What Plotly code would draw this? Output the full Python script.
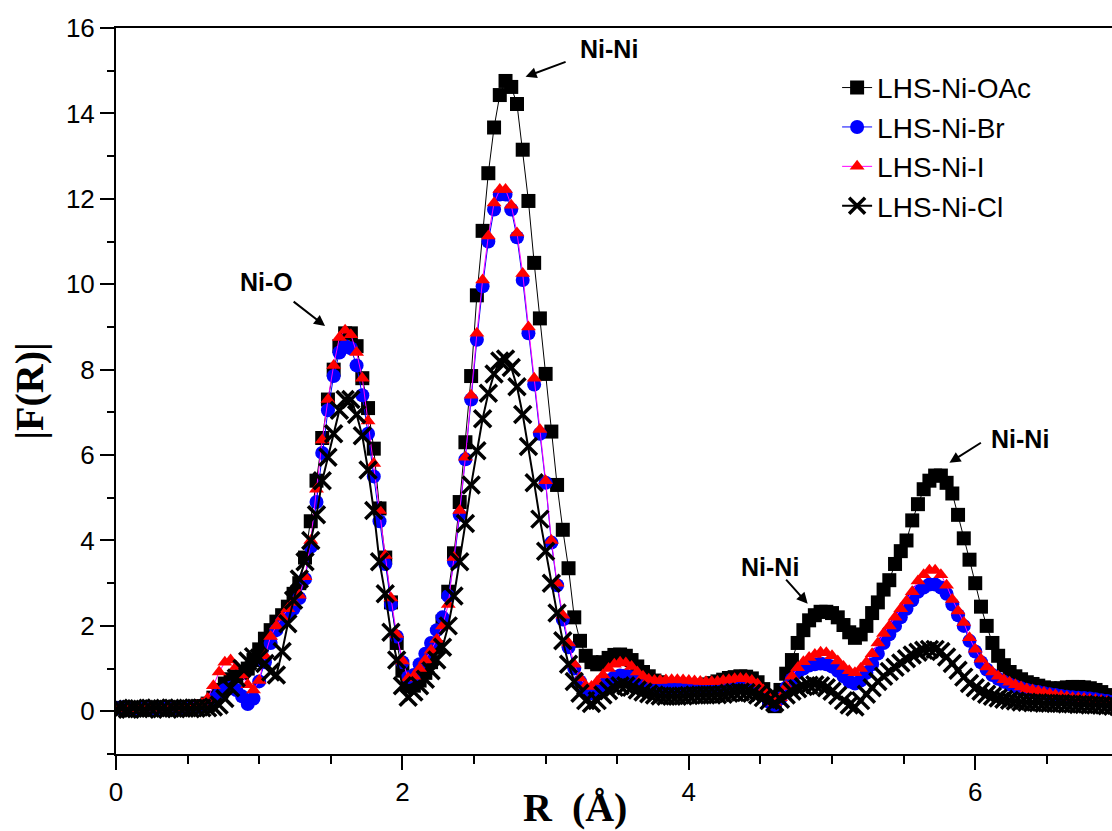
import plotly.graph_objects as go

# R grid (Å), sampled every 0.04 Å from 0 to 7
R = [round(0.04 * i, 2) for i in range(176)]

oac = [
    0.06, 0.08, 0.07, 0.06, 0.08, 0.07, 0.05, 0.06, 0.08, 0.09, 0.07, 0.06, 0.08, 0.10, 0.11, 0.12, 0.18, 0.32, 0.50, 0.65, 0.75, 0.82, 0.90, 1.00, 1.20,
    1.45, 1.70, 1.90, 2.10, 2.25, 2.45, 2.75, 3.00, 3.60, 4.45, 5.40, 6.40, 7.30, 8.00, 8.55, 8.85, 8.85, 8.55, 7.80, 7.10, 6.15, 4.75, 3.60, 2.55, 1.60,
    0.95, 0.60, 0.60, 0.72, 0.90, 1.15, 1.50, 2.10, 2.80, 3.70, 4.90, 6.30, 7.85, 9.74, 11.25, 12.60, 13.67, 14.43, 14.76, 14.62, 14.22, 13.15, 11.95, 10.50, 9.20,
    7.90, 6.55, 5.30, 4.25, 3.35, 2.20, 1.65, 1.30, 1.15, 1.10, 1.15, 1.25, 1.32, 1.33, 1.30, 1.20, 1.05, 0.92, 0.82, 0.72, 0.68, 0.63, 0.60, 0.58, 0.57,
    0.57, 0.58, 0.60, 0.63, 0.66, 0.70, 0.74, 0.78, 0.80, 0.82, 0.81, 0.77, 0.68, 0.52, 0.30, 0.12, 0.50, 0.88, 1.20, 1.60, 1.90, 2.13, 2.25, 2.33, 2.33,
    2.30, 2.20, 2.02, 1.85, 1.72, 1.80, 2.00, 2.30, 2.55, 2.85, 3.07, 3.45, 3.75, 4.00, 4.47, 4.85, 5.20, 5.40, 5.52, 5.52, 5.35, 5.10, 4.60, 4.05, 3.55,
    3.00, 2.45, 2.00, 1.60, 1.30, 1.08, 0.92, 0.82, 0.75, 0.68, 0.64, 0.60, 0.56, 0.54, 0.53, 0.54, 0.56, 0.57, 0.57, 0.56, 0.54, 0.50, 0.45, 0.38, 0.32,
    0.28,
]

br = [
    0.07, 0.09, 0.08, 0.06, 0.07, 0.09, 0.08, 0.06, 0.07, 0.09, 0.08, 0.07, 0.09, 0.10, 0.10, 0.12, 0.18, 0.28, 0.40, 0.50, 0.55, 0.50, 0.35, 0.17, 0.30,
    0.70, 1.15, 1.60, 1.90, 2.10, 2.25, 2.40, 2.65, 3.10, 3.85, 4.90, 6.05, 7.05, 7.85, 8.40, 8.55, 8.50, 8.10, 7.40, 6.50, 5.50, 4.45, 3.45, 2.50, 1.75,
    1.15, 0.80, 0.85, 1.10, 1.35, 1.60, 1.90, 2.20, 2.70, 3.50, 4.60, 5.90, 7.30, 8.70, 9.95, 11.00, 11.75, 12.10, 12.10, 11.75, 11.10, 10.10, 8.85, 7.65, 6.50,
    5.35, 3.95, 2.95, 2.15, 1.50, 1.00, 0.70, 0.48, 0.42, 0.50, 0.62, 0.72, 0.80, 0.84, 0.84, 0.80, 0.72, 0.64, 0.58, 0.55, 0.53, 0.52, 0.52, 0.53, 0.54,
    0.55, 0.56, 0.56, 0.55, 0.55, 0.56, 0.58, 0.60, 0.62, 0.63, 0.62, 0.58, 0.50, 0.38, 0.22, 0.15, 0.30, 0.55, 0.75, 0.90, 1.00, 1.07, 1.10, 1.12, 1.10,
    1.05, 0.95, 0.82, 0.70, 0.65, 0.72, 0.90, 1.10, 1.35, 1.60, 1.80, 2.00, 2.20, 2.40, 2.60, 2.80, 2.90, 2.97, 2.97, 2.90, 2.75, 2.50, 2.25, 2.00, 1.65,
    1.40, 1.15, 0.98, 0.85, 0.76, 0.69, 0.63, 0.58, 0.54, 0.50, 0.47, 0.45, 0.42, 0.40, 0.38, 0.36, 0.34, 0.33, 0.32, 0.31, 0.30, 0.28, 0.26, 0.24, 0.22,
    0.20,
]

iod = [
    0.06, 0.07, 0.09, 0.08, 0.06, 0.08, 0.10, 0.08, 0.07, 0.09, 0.10, 0.08, 0.10, 0.12, 0.13, 0.18, 0.30, 0.60, 0.92, 1.15, 1.20, 1.05, 0.85, 0.62, 0.50,
    0.72, 1.30, 1.75, 2.00, 2.20, 2.40, 2.55, 2.72, 3.15, 4.00, 5.20, 6.35, 7.30, 8.10, 8.75, 8.92, 8.82, 8.40, 7.80, 6.80, 5.80, 4.70, 3.65, 2.65, 1.80,
    1.18, 0.78, 0.82, 1.00, 1.20, 1.43, 1.68, 2.00, 2.50, 3.60, 4.70, 5.95, 7.40, 8.85, 10.10, 11.13, 11.90, 12.22, 12.22, 11.85, 11.20, 10.25, 9.00, 7.80, 6.60,
    5.40, 4.00, 3.00, 2.25, 1.60, 1.10, 0.78, 0.60, 0.58, 0.70, 0.85, 1.00, 1.10, 1.15, 1.13, 1.05, 0.92, 0.82, 0.75, 0.72, 0.72, 0.73, 0.74, 0.74, 0.73,
    0.72, 0.71, 0.70, 0.69, 0.69, 0.70, 0.72, 0.74, 0.76, 0.77, 0.76, 0.72, 0.64, 0.50, 0.32, 0.20, 0.32, 0.58, 0.82, 1.02, 1.16, 1.26, 1.33, 1.38, 1.37,
    1.30, 1.18, 1.05, 0.95, 0.90, 1.00, 1.15, 1.35, 1.60, 1.82, 2.00, 2.20, 2.40, 2.58, 2.80, 3.05, 3.20, 3.30, 3.30, 3.20, 2.95, 2.62, 2.35, 2.08, 1.72,
    1.45, 1.22, 1.04, 0.92, 0.82, 0.74, 0.68, 0.62, 0.57, 0.52, 0.50, 0.47, 0.44, 0.41, 0.38, 0.36, 0.34, 0.32, 0.31, 0.30, 0.28, 0.27, 0.25, 0.23, 0.20,
    0.18,
]

cl = [
    0.05, 0.06, 0.05, 0.07, 0.06, 0.05, 0.07, 0.08, 0.06, 0.05, 0.07, 0.08, 0.07, 0.06, 0.07, 0.08, 0.08, 0.10, 0.15, 0.30, 0.55, 0.78, 1.00, 1.18, 1.28,
    1.25, 1.12, 0.92, 0.85, 1.40, 2.05, 2.60, 3.10, 3.50, 4.00, 4.60, 5.40, 5.95, 6.50, 7.05, 7.30, 7.30, 6.95, 6.45, 5.65, 4.70, 3.50, 2.75, 1.85, 1.20,
    0.60, 0.33, 0.45, 0.60, 0.75, 0.95, 1.20, 1.50, 2.00, 2.70, 3.50, 4.40, 5.30, 6.10, 6.85, 7.45, 7.90, 8.20, 8.25, 8.05, 7.60, 6.95, 6.20, 5.35, 4.50,
    3.75, 3.00, 2.30, 1.65, 1.10, 0.70, 0.42, 0.25, 0.18, 0.25, 0.38, 0.48, 0.56, 0.60, 0.60, 0.56, 0.50, 0.45, 0.41, 0.38, 0.36, 0.35, 0.35, 0.35, 0.36,
    0.37, 0.38, 0.38, 0.38, 0.38, 0.39, 0.40, 0.42, 0.44, 0.45, 0.44, 0.42, 0.38, 0.32, 0.25, 0.20, 0.28, 0.38, 0.47, 0.53, 0.58, 0.61, 0.62, 0.60, 0.55,
    0.47, 0.37, 0.25, 0.15, 0.10, 0.25, 0.40, 0.55, 0.70, 0.82, 0.93, 1.03, 1.13, 1.23, 1.32, 1.38, 1.43, 1.45, 1.45, 1.40, 1.27, 1.12, 0.96, 0.80, 0.65,
    0.55, 0.47, 0.40, 0.35, 0.31, 0.28, 0.26, 0.24, 0.22, 0.21, 0.20, 0.20, 0.19, 0.19, 0.18, 0.18, 0.17, 0.17, 0.16, 0.16, 0.15, 0.15, 0.14, 0.13, 0.12,
    0.11,
]

names = ["LHS-Ni-OAc", "LHS-Ni-Br", "LHS-Ni-I", "LHS-Ni-Cl"]

SANS = "Liberation Sans, Arial, sans-serif"
SERIF = "Liberation Serif, Times New Roman, serif"

fig = go.Figure()
fig.add_trace(go.Scatter(x=R, y=oac, name=names[0], mode="lines+markers",
                         line=dict(color="#000000", width=1),
                         marker=dict(symbol="square", size=14, color="#000000")))
fig.add_trace(go.Scatter(x=R, y=br, name=names[1], mode="lines+markers",
                         line=dict(color="#0000ff", width=1),
                         marker=dict(symbol="circle", size=14, color="#0000ff")))
fig.add_trace(go.Scatter(x=R, y=iod, name=names[2], mode="lines+markers",
                         line=dict(color="#ff00ff", width=1),
                         marker=dict(symbol="triangle-up", size=13, color="#ff0000")))
fig.add_trace(go.Scatter(x=R, y=cl, name=names[3], mode="lines+markers",
                         line=dict(color="#000000", width=2),
                         marker=dict(symbol="x-thin", size=17, color="#000000",
                                     line=dict(color="#000000", width=3.5))))

arrow_style = dict(showarrow=True, arrowhead=2, arrowsize=1.1, arrowwidth=2,
                   arrowcolor="#000000", axref="x", ayref="y", text="")
labels = [
    # text, text x, text y, arrow tail x, tail y, head x, head y
    ("Ni-O", 1.05, 10.05, 1.23, 9.62, 1.46, 9.02),
    ("Ni-Ni", 3.44, 15.5, 3.15, 15.22, 2.86, 14.86),
    ("Ni-Ni", 4.57, 3.37, 4.67, 3.12, 4.83, 2.52),
    ("Ni-Ni", 6.31, 6.37, 6.05, 6.31, 5.82, 5.82),
]
for txt, tx, ty, axx, ayy, hx, hy in labels:
    fig.add_annotation(x=tx, y=ty, text="<b>%s</b>" % txt, showarrow=False,
                       font=dict(family=SANS, size=25, color="#000000"))
    fig.add_annotation(x=hx, y=hy, ax=axx, ay=ayy, **arrow_style)

# x-axis title (placed like the original, slightly left of the axis centre)
fig.add_annotation(xref="paper", yref="paper", x=0.461, y=-0.074,
                   xanchor="center", yanchor="middle", showarrow=False,
                   text="<b>R&nbsp;&nbsp;(Å)</b>",
                   font=dict(family=SERIF, size=40, color="#000000"))

fig.update_layout(
    width=1112, height=831,
    margin=dict(l=116, r=0, t=28, b=77),
    paper_bgcolor="white", plot_bgcolor="white",
    font=dict(family=SANS, color="#000000"),
    showlegend=True,
    legend=dict(x=0.724, y=0.952, xanchor="left", yanchor="top",
                font=dict(family=SANS, size=28, color="#000000"),
                bgcolor="rgba(0,0,0,0)", itemsizing="trace"),
    xaxis=dict(range=[0, 6.955], tick0=0, dtick=2, showgrid=False, zeroline=False,
               showline=True, linecolor="#000000", linewidth=2, mirror=True,
               ticks="outside", ticklen=14, tickwidth=2, tickcolor="#000000",
               tickfont=dict(family=SANS, size=26), automargin=False,
               minor=dict(dtick=0.5, ticks="outside", ticklen=8, tickwidth=2, tickcolor="#000000")),
    yaxis=dict(range=[-1, 16], tick0=0, dtick=2, showgrid=False, zeroline=False,
               showline=True, linecolor="#000000", linewidth=2,
               ticks="outside", ticklen=14, tickwidth=2, tickcolor="#000000",
               tickfont=dict(family=SANS, size=26), automargin=False,
               minor=dict(dtick=1, ticks="outside", ticklen=7, tickwidth=2, tickcolor="#000000"),
               title=dict(text="<b>|F(R)|</b>", font=dict(family=SERIF, size=40), standoff=10)),
)

fig.write_html("out.html")
